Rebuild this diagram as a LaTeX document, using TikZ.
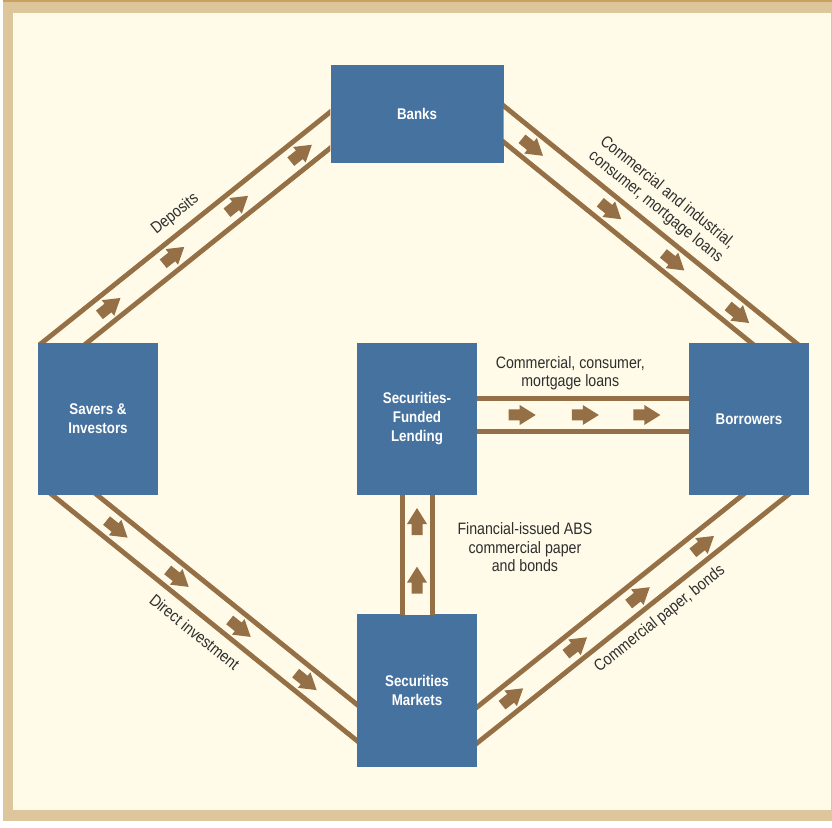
\documentclass[tikz,border=0pt]{standalone}
\usepackage{fontspec}
\setmainfont{Liberation Sans}[FakeStretch=0.86]
\usepackage{tikz}
\usetikzlibrary{positioning,shapes.arrows}

\definecolor{paper}{HTML}{FFFBE8}
\definecolor{frametan}{HTML}{DEC69C}
\definecolor{framedark}{HTML}{C8A25C}
\definecolor{boxblue}{HTML}{46729F}
\definecolor{pipebrown}{HTML}{957046}
\definecolor{inkgray}{HTML}{2E2E2E}

\tikzset{
	box/.style={rectangle, fill=boxblue, text=white, font=\bfseries\fontsize{15.5}{19}\selectfont, align=center, minimum width=120pt, minimum height=152pt, inner sep=0pt},
	pipe/.style={draw=pipebrown, line width=5pt, double=paper, double distance=23pt, shorten <=-30pt, shorten >=-30pt},
	chev/.style={single arrow, fill=pipebrown, draw=none, sloped, allow upside down, inner sep=0pt, inner ysep=3pt, minimum height=27pt, minimum width=15pt, single arrow head extend=4.5pt, single arrow tip angle=64},
	lbl/.style={text=inkgray, font=\fontsize{16.5}{18.5}\selectfont, align=center, inner sep=0pt}
}

\begin{document}
\begin{tikzpicture}[x=1pt, y=1pt]
		\useasboundingbox (0,0) rectangle (832,827);
		% frame
		\fill[frametan] (3,6) rectangle (832,827);
		\fill[framedark] (3,824.5) rectangle (832,827);
		\fill[paper] (13,17) rectangle (831,814);

		\node[box] (savers) at (98,408) {Savers \&\\Investors};
		
		\node[box, right of=savers, node distance=319pt] (sfl) {Securities-\\Funded\\Lending};
		
		\node[box, right of=sfl, node distance=332pt] (borrowers) {Borrowers};
		
		\node[box, above of=sfl, node distance=305pt, minimum width=173pt, minimum height=98pt] (banks) {Banks};
		
		\node[box, below of=sfl, node distance=271.5pt] (secmkt) {Securities\\Markets};
		
		% savers -> banks
		\begin{scope}
			\clip ([xshift=-50pt]savers.north west) rectangle ([yshift=60pt]banks.north west);
			\draw[pipe] ([xshift=-33.5pt]savers.north) -- ([yshift=-16pt]banks.west)
				node[chev, pos=0.158] {} node[chev, pos=0.398] {} node[chev, pos=0.638] {} node[chev, pos=0.878] {}
				node[lbl, pos=0.49, sloped, above=21pt] {Deposits};
		\end{scope}
		
		% banks -> borrowers
		\begin{scope}
			\clip ([yshift=60pt]banks.north east) rectangle ([xshift=60pt]borrowers.north east);
			\draw[pipe] ([yshift=-10pt]banks.east) -- ([xshift=24.5pt]borrowers.north)
				node[chev, pos=0.094] {} node[chev, pos=0.384] {} node[chev, pos=0.618] {} node[chev, pos=0.858] {}
				node[lbl, pos=0.49, sloped, above=21pt] {Commercial and industrial,\\consumer, mortgage loans};
		\end{scope}
		
		% savers -> securities markets
		\begin{scope}
			\clip ([xshift=-50pt]savers.south west) rectangle ([yshift=-60pt]secmkt.south west);
			\draw[pipe] ([xshift=-23pt]savers.south) -- ([yshift=-32pt]secmkt.west)
				node[chev, pos=0.137] {} node[chev, pos=0.354] {} node[chev, pos=0.574] {} node[chev, pos=0.808] {}
				node[lbl, pos=0.495, sloped, below=23pt] {Direct investment};
		\end{scope}
		
		% securities markets -> borrowers
		\begin{scope}
			\clip ([yshift=-60pt]secmkt.south east) rectangle ([xshift=60pt]borrowers.south east);
			\draw[pipe] ([yshift=-34.5pt]secmkt.east) -- ([xshift=16pt]borrowers.south)
				node[chev, pos=0.111] {} node[chev, pos=0.333] {} node[chev, pos=0.551] {} node[chev, pos=0.774] {}
				node[lbl, pos=0.567, sloped, below=21pt] {Commercial paper, bonds};
		\end{scope}
		
		% securities markets -> securities-funded lending
		\begin{scope}
			\clip ([xshift=-60pt]sfl.south west) rectangle ([xshift=200pt]secmkt.north east);
			\draw[pipe, double distance=25pt] (secmkt.north) -- (sfl.south)
				node[chev, pos=0.25] {} node[chev, pos=0.742] {}
				node[lbl, pos=0.5625, right=38pt] {Financial-issued ABS\\commercial paper\\and bonds};
		\end{scope}
		
		% securities-funded lending -> borrowers
		\begin{scope}
			\clip ([yshift=80pt]sfl.north east) rectangle ([yshift=-80pt]borrowers.south west);
			\draw[pipe, double distance=28pt] ([yshift=4pt]sfl.east) -- ([yshift=4pt]borrowers.west)
				node[chev, pos=0.192] {} node[chev, pos=0.49] {} node[chev, pos=0.781] {}
				node[lbl, pos=0.44, above=22.5pt] {Commercial, consumer,\\mortgage loans};
		\end{scope}
	\end{tikzpicture}
\end{document}
